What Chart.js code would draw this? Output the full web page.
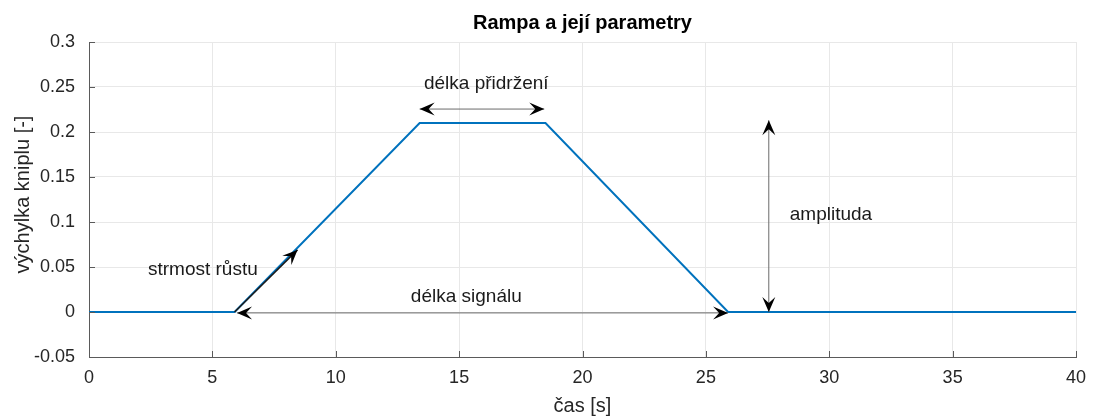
<!DOCTYPE html>
<html>
<head>
<meta charset="utf-8">
<script src="https://cdn.jsdelivr.net/npm/chart.js@4.4.1/dist/chart.umd.min.js"></script>
<style>
  html, body { margin: 0; padding: 0; background: #fff; }
  #wrap { width: 1093px; height: 417px; }
</style>
</head>
<body>
<div id="wrap"><canvas id="myChart" width="1093" height="417"></canvas></div>
<script>
// ramp signal, breakpoints
const timeS = [0, 5.9, 13.4, 18.5, 25.9, 40];
const deflection = [0, 0, 0.21, 0.21, 0, 0];

const xTicks = [0, 5, 10, 15, 20, 25, 30, 35, 40];
const yTicks = [-0.05, 0, 0.05, 0.1, 0.15, 0.2, 0.25, 0.3];

// annotation arrows: [x1, y1, x2, y2, doubleHead]
const arrows = [
    [5.9, 0, 8.45, 0.069, false],
    [6.0, -0.001, 25.9, -0.001, true],
    [13.4, 0.2255, 18.45, 0.2255, true],
    [27.55, 0.213, 27.55, 0, true]
];
// annotation texts: [label, x, y, align]
const notes = [
    ['strmost růstu', 2.39, 0.0467, 'left'],
    ['délka signálu', 15.29, 0.0167, 'center'],
    ['délka přidržení', 16.1, 0.2533, 'center'],
    ['amplituda', 28.4, 0.1078, 'left']
];

const FONT = '"Liberation Sans", Arial, sans-serif';
const axisGray = '#5a5a5a';

const drawHead = (ctx, x, y, ang) => {
    const L = 15, hw = 6.5, notch = 9;
    ctx.save();
    ctx.translate(x, y);
    ctx.rotate(ang);
    ctx.beginPath();
    ctx.moveTo(0, 0);
    ctx.lineTo(-L, -hw);
    ctx.lineTo(-notch, 0);
    ctx.lineTo(-L, hw);
    ctx.closePath();
    ctx.fillStyle = '#000';
    ctx.fill();
    ctx.restore();
};

const decorations = {
    id: 'decorations',
    afterDraw(chart) {
        const ctx = chart.ctx;
        const xs = chart.scales.x;
        const ys = chart.scales.y;
        const area = chart.chartArea;

        // inward tick marks
        ctx.save();
        ctx.strokeStyle = axisGray;
        ctx.lineWidth = 1;
        ctx.beginPath();
        for (const t of xTicks) {
            const px = Math.round(xs.getPixelForValue(t)) + 0.5;
            ctx.moveTo(px, area.bottom);
            ctx.lineTo(px, area.bottom - 6);
        }
        for (const t of yTicks) {
            const py = Math.round(ys.getPixelForValue(t)) + 0.5;
            ctx.moveTo(area.left, py);
            ctx.lineTo(area.left + 6, py);
        }
        ctx.stroke();

        // arrows
        arrows.forEach(([x1, y1, x2, y2, both], i) => {
            const ax = xs.getPixelForValue(x1), ay = ys.getPixelForValue(y1);
            const bx = xs.getPixelForValue(x2), by = ys.getPixelForValue(y2);
            const ang = Math.atan2(by - ay, bx - ax);
            ctx.strokeStyle = i === 0 ? '#1a1a1a' : '#6a6a6a';
            ctx.lineWidth = i === 0 ? 1.5 : 1;
            ctx.beginPath();
            ctx.moveTo(ax, ay);
            ctx.lineTo(bx, by);
            ctx.stroke();
            drawHead(ctx, bx, by, ang);
            if (both) drawHead(ctx, ax, ay, ang + Math.PI);
        });

        // notes
        ctx.fillStyle = '#1a1a1a';
        ctx.font = '19px ' + FONT;
        ctx.textBaseline = 'middle';
        for (const [txt, x, y, al] of notes) {
            ctx.textAlign = al;
            ctx.fillText(txt, xs.getPixelForValue(x), ys.getPixelForValue(y));
        }

        // title and axis labels
        const cx = (area.left + area.right) / 2;
        ctx.textAlign = 'center';
        ctx.fillStyle = '#000';
        ctx.font = 'bold 20px ' + FONT;
        ctx.fillText('Rampa a její parametry', cx, 23);
        ctx.fillStyle = '#262626';
        ctx.font = '20px ' + FONT;
        ctx.fillText('čas [s]', cx, 406);
        ctx.save();
        ctx.translate(23, (area.top + area.bottom) / 2 - 5);
        ctx.rotate(-Math.PI / 2);
        ctx.fillText('výchylka kniplu [-]', 0, 0);
        ctx.restore();
        ctx.restore();
    }
};

const fmt = (v) => String(Math.round(v * 100) / 100);

const config = {
    type: 'line',
    plugins: [decorations],
    data: {
        datasets: [{
            data: timeS.map((t, i) => ({ x: t, y: deflection[i] })),
            borderColor: '#0072BD',
            borderWidth: 2,
            pointRadius: 0,
            tension: 0,
            fill: false
        }]
    },
    options: {
        responsive: false,
        animation: false,
        events: [],
        layout: { padding: { top: 42, right: 17, left: 0, bottom: 0 } },
        plugins: {
            legend: { display: false },
            tooltip: { enabled: false },
            title: { display: false }
        },
        scales: {
            x: {
                type: 'linear',
                min: 0,
                max: 40,
                afterBuildTicks: (s) => { s.ticks = xTicks.map(v => ({ value: v })); },
                afterFit: (s) => { s.height = 60; s.paddingRight = 0; s.paddingLeft = 0; },
                ticks: {
                    padding: 10,
                    color: '#262626',
                    font: { family: FONT, size: 18 },
                    maxRotation: 0,
                    callback: (v) => fmt(v)
                },
                grid: { color: '#e8e8e8', drawTicks: false },
                border: { color: axisGray, width: 1 }
            },
            y: {
                type: 'linear',
                min: -0.05,
                max: 0.3,
                afterBuildTicks: (s) => { s.ticks = yTicks.map(v => ({ value: v })); },
                afterFit: (s) => { s.width = 89; s.paddingTop = 0; s.paddingBottom = 0; },
                ticks: {
                    padding: 14,
                    color: '#262626',
                    font: { family: FONT, size: 18 },
                    callback: (v) => fmt(v)
                },
                grid: { color: '#e8e8e8', drawTicks: false },
                border: { color: axisGray, width: 1 }
            }
        }
    }
};

new Chart(document.getElementById('myChart'), config);
</script>
</body>
</html>
